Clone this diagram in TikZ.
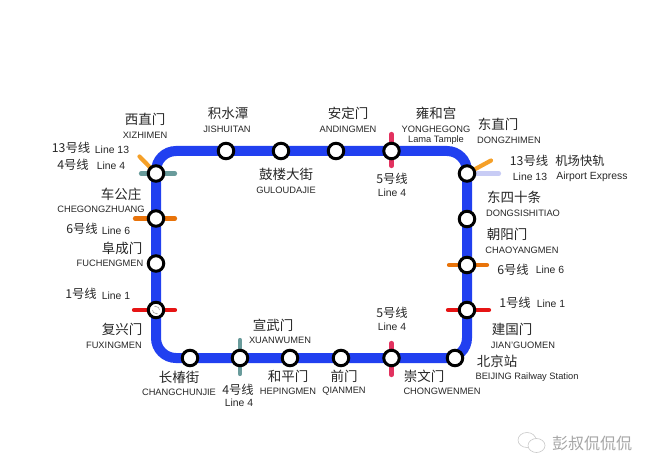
\documentclass[tikz,border=0pt]{standalone}
\usepackage{fontspec}
\setmainfont{Liberation Sans}
\newfontfamily\cjk{Noto Sans CJK SC}
\usepackage{xcolor}
\definecolor{loop_blue}{RGB}{33,64,240}
\definecolor{line_teal}{RGB}{105,155,155}
\definecolor{line_amber}{RGB}{245,160,40}
\definecolor{line_orange}{RGB}{232,115,10}
\definecolor{line_red}{RGB}{230,20,20}
\definecolor{line_pink}{RGB}{226,50,95}
\definecolor{line_pale}{RGB}{200,204,245}
\definecolor{mark_gray}{RGB}{165,165,165}
\usetikzlibrary{positioning, calc, arrows.meta}
\tikzstyle{station} = [
    circle, draw=black, fill=white, line width=3pt,
    minimum size=15.5pt, inner sep=0pt,
]
\tikzstyle{zh} = [inner sep=0pt, text=black!85, font=\cjk\fontsize{13.5}{14}\selectfont]
\tikzstyle{en} = [inner sep=0pt, text=black!85, font=\fontsize{9.3}{11}\selectfont]
\tikzstyle{linezh} = [inner sep=0pt, text=black!85, font=\cjk\fontsize{12.3}{13}\selectfont]
\tikzstyle{lineen} = [inner sep=0pt, text=black!85, font=\fontsize{10.4}{12}\selectfont]
\tikzstyle{stub} = [line width=4.2pt, line cap=round]
\tikzstyle{watermark} = [inner sep=0pt, text=mark_gray, font=\cjk\fontsize{16}{17}\selectfont]

\begin{document}
\begin{tikzpicture}[x=1pt, y=-1pt]
    \useasboundingbox (0,0) rectangle (652,473);

    % loop line
    \coordinate (corner_nw) at (156,151);
    \coordinate (corner_ne) at (467,151);
    \coordinate (corner_se) at (467,358);
    \coordinate (corner_sw) at (156,358);
    \draw[loop_blue, line width=10pt, rounded corners=20pt] (corner_nw) -- (corner_ne) -- (corner_se) -- (corner_sw) -- cycle;

    % stub ends
    \coordinate (xizhimen_a) at (139.5,156.5);
    \coordinate (xizhimen_b) at (141,173.5);
    \coordinate (xizhimen_c) at (175,173.5);
    \coordinate (xizhimen_d) at (156,173.5);
    \coordinate (chegong_a) at (135,218.5);
    \coordinate (chegong_b) at (175,218.5);
    \coordinate (fuxing_a) at (134,310);
    \coordinate (fuxing_b) at (175,310);
    \coordinate (xuanwu_a) at (240,340);
    \coordinate (xuanwu_b) at (240,374);
    \coordinate (yonghe_a) at (391.5,134);
    \coordinate (yonghe_b) at (391.5,166);
    \coordinate (dongzhi_a) at (491,160.5);
    \coordinate (dongzhi_b) at (499,173.5);
    \coordinate (dongzhi_c) at (467,173.5);
    \coordinate (chaoyang_a) at (449,265);
    \coordinate (chaoyang_b) at (487,265);
    \coordinate (jianguo_a) at (448,310);
    \coordinate (jianguo_b) at (489,310);
    \coordinate (chongwen_a) at (391.5,343);
    \coordinate (chongwen_b) at (391.5,375);

    % transfer lines
    \draw[stub, line_amber] (xizhimen_a) to (xizhimen_d);
    \draw[stub, line_teal] (xizhimen_b) to (xizhimen_c);
    \draw[stub, line_orange] (chegong_a) to (chegong_b);
    \draw[stub, line_red] (fuxing_a) to (fuxing_b);
    \draw[stub, line_teal] (xuanwu_a) to (xuanwu_b);
    \draw[stub, line_pink] (yonghe_a) to (yonghe_b);
    \draw[stub, line_pale] (dongzhi_c) to (dongzhi_b);
    \draw[stub, line_amber] (dongzhi_c) to (dongzhi_a);
    \draw[stub, line_orange] (chaoyang_a) to (chaoyang_b);
    \draw[stub, line_red] (jianguo_a) to (jianguo_b);
    \draw[stub, line_pink] (chongwen_a) to (chongwen_b);

    % stations
    \node[station] (xizhimen) at (156,173.5) {};
    \node[station] (jishuitan) at (226,151) {};
    \node[station] (guloudajie) at (281,151) {};
    \node[station] (andingmen) at (336,151) {};
    \node[station] (yonghegong) at (391.5,151) {};
    \node[station] (dongzhimen) at (467,173.5) {};
    \node[station] (dongsishitiao) at (467,219) {};
    \node[station] (chaoyangmen) at (467,265) {};
    \node[station] (jianguomen) at (467,310) {};
    \node[station] (beijingzhan) at (455,358) {};
    \node[station] (chongwenmen) at (391.5,358) {};
    \node[station] (qianmen) at (341,358) {};
    \node[station] (hepingmen) at (290,358) {};
    \node[station] (xuanwumen) at (240,358) {};
    \node[station] (changchunjie) at (190,358) {};
    \node[station] (fuxingmen) at (156,310) {};
    \node[station] (fuchengmen) at (156,263.5) {};
    \node[station] (chegongzhuang) at (156,218.5) {};

    % interchange sign
    \draw[mark_gray, line width=0.6pt, -{Latex[length=1.5pt,width=1.5pt]}] ($(fuxingmen)+(-3.5,0)$) arc (180:60:3.5);
    \draw[mark_gray, line width=0.6pt, -{Latex[length=1.5pt,width=1.5pt]}] ($(fuxingmen)+(3.5,0)$) arc (0:-120:3.5);

    % station names
    \node[zh] (xizhimen_zh) at (145,119) {西直门};
    \node[en] (xizhimen_en) at (145,135) {XIZHIMEN};
    \node[zh] (jishuitan_zh) at (228,113) {积水潭};
    \node[en] (jishuitan_en) at (227,129) {JISHUITAN};
    \node[zh] (guloudajie_zh) at (286,174) {鼓楼大街};
    \node[en] (guloudajie_en) at (286,190) {GULOUDAJIE};
    \node[zh] (andingmen_zh) at (348,113) {安定门};
    \node[en] (andingmen_en) at (348,129) {ANDINGMEN};
    \node[zh] (yonghegong_zh) at (436,113) {雍和宫};
    \node[en] (yonghegong_en) at (436,129) {YONGHEGONG};
    \node[en] (yonghegong_note) at (436,140) {Lama Tample};
    \node[zh] (dongzhimen_zh) at (498,124) {东直门};
    \node[en] (dongzhimen_en) at (509,140) {DONGZHIMEN};
    \node[zh] (dongsishitiao_zh) at (514,197) {东四十条};
    \node[en] (dongsishitiao_en) at (523,213) {DONGSISHITIAO};
    \node[zh] (chaoyangmen_zh) at (507,234) {朝阳门};
    \node[en] (chaoyangmen_en) at (522,250) {CHAOYANGMEN};
    \node[zh] (jianguomen_zh) at (512,329) {建国门};
    \node[en] (jianguomen_en) at (523,345) {JIAN'GUOMEN};
    \node[zh] (beijingzhan_zh) at (497,361) {北京站};
    \node[en] (beijingzhan_en) at (527,377) {BEIJING Railway Station};
    \node[zh] (chongwenmen_zh) at (424,376) {崇文门};
    \node[en] (chongwenmen_en) at (442,391) {CHONGWENMEN};
    \node[zh] (qianmen_zh) at (344,376) {前门};
    \node[en] (qianmen_en) at (344,391) {QIANMEN};
    \node[zh] (hepingmen_zh) at (288,376) {和平门};
    \node[en] (hepingmen_en) at (288,391) {HEPINGMEN};
    \node[zh] (xuanwumen_zh) at (273,325) {宣武门};
    \node[en] (xuanwumen_en) at (280,340) {XUANWUMEN};
    \node[zh] (changchunjie_zh) at (179,377) {长椿街};
    \node[en] (changchunjie_en) at (179,392) {CHANGCHUNJIE};
    \node[zh] (fuxingmen_zh) at (122,329) {复兴门};
    \node[en] (fuxingmen_en) at (114,345) {FUXINGMEN};
    \node[zh] (fuchengmen_zh) at (122,248) {阜成门};
    \node[en] (fuchengmen_en) at (110,263) {FUCHENGMEN};
    \node[zh] (chegongzhuang_zh) at (121,194) {车公庄};
    \node[en] (chegongzhuang_en) at (101,209) {CHEGONGZHUANG};

    % line names
    \node[linezh] (xizhimen_l13) at (71,148) {13号线};
    \node[lineen] (xizhimen_l13en) at (112,150) {Line 13};
    \node[linezh] (xizhimen_l4) at (73,165) {4号线};
    \node[lineen] (xizhimen_l4en) at (111,166) {Line 4};
    \node[linezh] (chegong_l6) at (82,229) {6号线};
    \node[lineen] (chegong_l6en) at (116,231) {Line 6};
    \node[linezh] (fuxing_l1) at (81,294) {1号线};
    \node[lineen] (fuxing_l1en) at (116,296) {Line 1};
    \node[linezh] (xuanwu_l4) at (238,390) {4号线};
    \node[lineen] (xuanwu_l4en) at (239,403) {Line 4};
    \node[linezh] (yonghe_l5) at (392,179) {5号线};
    \node[lineen] (yonghe_l5en) at (392,193) {Line 4};
    \node[linezh] (chongwen_l5) at (392,313) {5号线};
    \node[lineen] (chongwen_l5en) at (392,327) {Line 4};
    \node[linezh] (dongzhi_l13) at (529,161) {13号线};
    \node[lineen] (dongzhi_l13en) at (530,177) {Line 13};
    \node[linezh] (dongzhi_air) at (580,161) {机场快轨};
    \node[lineen] (dongzhi_airen) at (592,177) {Airport Express};
    \node[linezh] (chaoyang_l6) at (513,270) {6号线};
    \node[lineen] (chaoyang_l6en) at (550,270) {Line 6};
    \node[linezh] (jianguo_l1) at (515,303) {1号线};
    \node[lineen] (jianguo_l1en) at (551,304) {Line 1};

    % watermark
    \draw[mark_gray!60, line width=0.6pt] (527,440) ellipse (9 and 7.5);
    \draw[mark_gray!60, line width=0.6pt, fill=white] (536.5,445.5) ellipse (8.5 and 7);
    \node[watermark] (watermark_text) at (592,443) {彭叔侃侃侃};
\end{tikzpicture}
\end{document}
